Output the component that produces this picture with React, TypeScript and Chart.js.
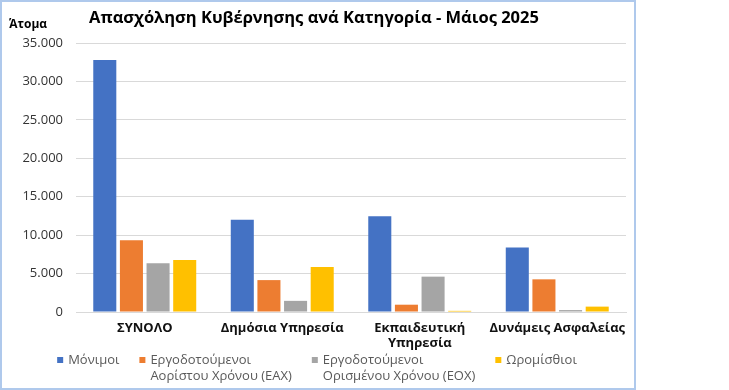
import React, { useEffect, useRef } from 'react';
import { Chart, registerables } from 'chart.js';

Chart.register(...registerables);

const TITLE = 'Απασχόληση Κυβέρνησης ανά Κατηγορία - Μάιος 2025';
const Y_TITLE = 'Άτομα';
const CATEGORIES: (string | string[])[] = ['ΣΥΝΟΛΟ', 'Δημόσια Υπηρεσία', ['Εκπαιδευτική', 'Υπηρεσία'], 'Δυνάμεις Ασφαλείας'];

const MONIMOI = [32800, 12000, 12450, 8400];
const EAX = [9350, 4150, 950, 4250];
const EOX = [6350, 1450, 4600, 250];
const OROMISTHIOI = [6770, 5850, 150, 700];

const SERIES_LABELS: string[][] = [
  ['Μόνιμοι'],
  ['Εργοδοτούμενοι', 'Αορίστου Χρόνου (ΕΑΧ)'],
  ['Εργοδοτούμενοι', 'Ορισμένου Χρόνου (ΕΟΧ)'],
  ['Ωρομίσθιοι'],
];
const SERIES_VALUES = [MONIMOI, EAX, EOX, OROMISTHIOI];
const COLORS = ['#4472C4', '#ED7D31', '#A5A5A5', '#FFC000'];

const Y_MIN = 0;
const Y_MAX = 35000;
const Y_STEP = 5000;

const FONT = '"Open Sans", "Noto Sans", sans-serif';

const fmt = (v: number) => String(v).replace(/\B(?=(\d{3})+(?!\d))/g, '.');

const overlayPlugin = {
  id: 'overlay',
  afterDraw(chart: any) {
    const ctx = chart.ctx as CanvasRenderingContext2D;
    ctx.save();
    ctx.fillStyle = '#000';
    ctx.font = `bold 16.5px ${FONT}`;
    ctx.textAlign = 'center';
    ctx.textBaseline = 'middle';
    ctx.fillText(TITLE, chart.width / 2 - 4, 18);

    ctx.font = `bold 12px ${FONT}`;
    ctx.textAlign = 'left';
    ctx.fillText(Y_TITLE, 9, 25);

    // legend
    ctx.font = `13px ${FONT}`;
    const box = 6;
    const boxGap = 5;
    const itemGap = 20;
    const widths = SERIES_LABELS.map((lines) => Math.max(...lines.map((l) => ctx.measureText(l).width)));
    const total = widths.reduce((a, w) => a + box + boxGap + w, 0) + itemGap * (widths.length - 1);
    let x = chart.width / 2 - 1 - total / 2;
    const y0 = 360;
    const lh = 16;
    SERIES_LABELS.forEach((lines, i) => {
      ctx.fillStyle = COLORS[i];
      ctx.fillRect(x, y0 - box / 2, box, box);
      ctx.fillStyle = '#595959';
      ctx.textBaseline = 'middle';
      lines.forEach((l, j) => ctx.fillText(l, x + box + boxGap, y0 + j * lh));
      x += box + boxGap + widths[i] + itemGap;
    });
    ctx.restore();
  },
};

export default function App() {
  const ref = useRef<HTMLCanvasElement>(null);

  useEffect(() => {
    document.body.style.margin = '0';
    if (!ref.current) return;
    const chart = new Chart(ref.current, {
      type: 'bar',
      data: {
        labels: CATEGORIES as any,
        datasets: SERIES_VALUES.map((vals, i) => ({
          label: SERIES_LABELS[i].join(' '),
          data: vals,
          backgroundColor: COLORS[i],
          borderWidth: 0,
          categoryPercentage: 0.775,
          barPercentage: 0.865,
        })),
      },
      options: {
        responsive: false,
        animation: false,
        layout: { padding: { top: 43, right: 10, bottom: 38, left: 0 } },
        plugins: {
          legend: { display: false },
          title: { display: false },
          tooltip: { enabled: false },
        },
        scales: {
          x: {
            grid: { display: false, drawTicks: false },
            border: { display: true, color: '#D9D9D9' },
            ticks: {
              color: '#111',
              font: { family: FONT, size: 13, weight: 'bold', lineHeight: 1.2 },
              padding: 8,
              maxRotation: 0,
              autoSkip: false,
            },
            afterFit: (s: any) => {
              s.height = 40;
            },
          },
          y: {
            min: Y_MIN,
            max: Y_MAX,
            grid: { color: '#D9D9D9', drawTicks: false },
            border: { display: false },
            ticks: {
              stepSize: Y_STEP,
              color: '#333',
              font: { family: FONT, size: 13 },
              padding: 13,
              callback: (v: any) => fmt(Number(v)),
            },
            afterFit: (s: any) => {
              s.width = 76;
            },
          },
        },
      },
      plugins: [overlayPlugin],
    });
    return () => chart.destroy();
  }, []);

  return (
    <div style={{ position: 'relative', width: 729, height: 390, background: '#fff' }}>
      <canvas ref={ref} width={636} height={390} style={{ position: 'absolute', left: 0, top: 0, width: 636, height: 390 }} />
      <div
        style={{
          position: 'absolute',
          left: 0,
          top: 0,
          width: 636,
          height: 390,
          boxSizing: 'border-box',
          border: '2px solid #AFC9EC',
          pointerEvents: 'none',
        }}
      />
    </div>
  );
}
